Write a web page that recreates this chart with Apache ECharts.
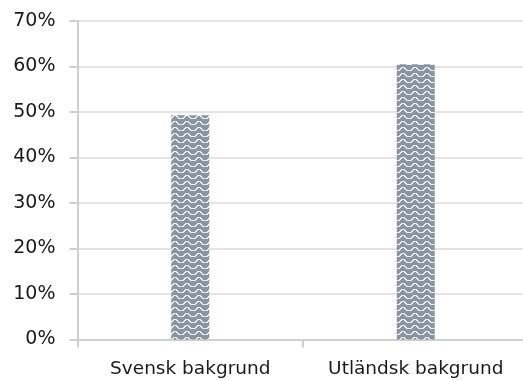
<!DOCTYPE html>
<html>
<head>
<meta charset="utf-8">
<script src="https://cdn.jsdelivr.net/npm/echarts@6/dist/echarts.min.js"></script>
<style>
html,body{margin:0;padding:0;background:#fff;}
#chart{width:523px;height:380px;}
</style>
</head>
<body>
<div id="chart"></div>
<script>
var categories = ['Svensk bakgrund', 'Utländsk bakgrund'];
var values = [49.3, 60.5];
var yTicks = [0, 10, 20, 30, 40, 50, 60, 70];

function makePattern() {
  var c = document.createElement('canvas');
  c.width = 12; c.height = 6;
  var ctx = c.getContext('2d');
  ctx.fillStyle = '#8a959f';
  ctx.fillRect(0, 0, 12, 6);
  ctx.fillStyle = '#e8edf2';
  var offs = [4, 4, 4, 3, 2, 1, 1, 1, 2, 3, 4, 4];
  for (var x = 0; x < 12; x++) {
    var prev = offs[(x + 11) % 12];
    var a = Math.min(prev, offs[x]), b = Math.max(prev, offs[x]);
    ctx.fillRect(x, a, 1, b - a + 1);
  }
  return c;
}

var chart = echarts.init(document.getElementById('chart'), null, {renderer: 'canvas'});
var font = 'DejaVu Sans';
chart.setOption({
  animation: false,
  grid: {left: 77.5, top: 21, width: 451, height: 318.5, containLabel: false, outerBoundsMode: 'none'},
  xAxis: {
    type: 'category',
    data: categories,
    axisLine: {show: true, lineStyle: {color: '#cfcfcf', width: 2}},
    axisTick: {show: true, alignWithLabel: false, length: 8, lineStyle: {color: '#cfcfcf', width: 2}},
    axisLabel: {color: '#1a1a1a', fontSize: 18.5, fontFamily: font, margin: 20, interval: 0, hideOverlap: false}
  },
  yAxis: {
    type: 'value',
    min: 0, max: 70, interval: 10,
    axisLine: {show: true, lineStyle: {color: '#cfcfcf', width: 2}},
    axisTick: {show: true, length: 8, lineStyle: {color: '#cfcfcf', width: 2}},
    axisLabel: {color: '#1a1a1a', fontSize: 19, fontFamily: font, margin: 22,
      formatter: function (v) { return yTicks.indexOf(v) >= 0 ? v + '%' : ''; }},
    splitLine: {show: true, lineStyle: {color: '#e4e4e4', width: 2}}
  },
  series: [{
    type: 'bar',
    data: values,
    barWidth: 38,
    itemStyle: {color: {image: makePattern(), repeat: 'repeat'}}
  }]
});
</script>
</body>
</html>
